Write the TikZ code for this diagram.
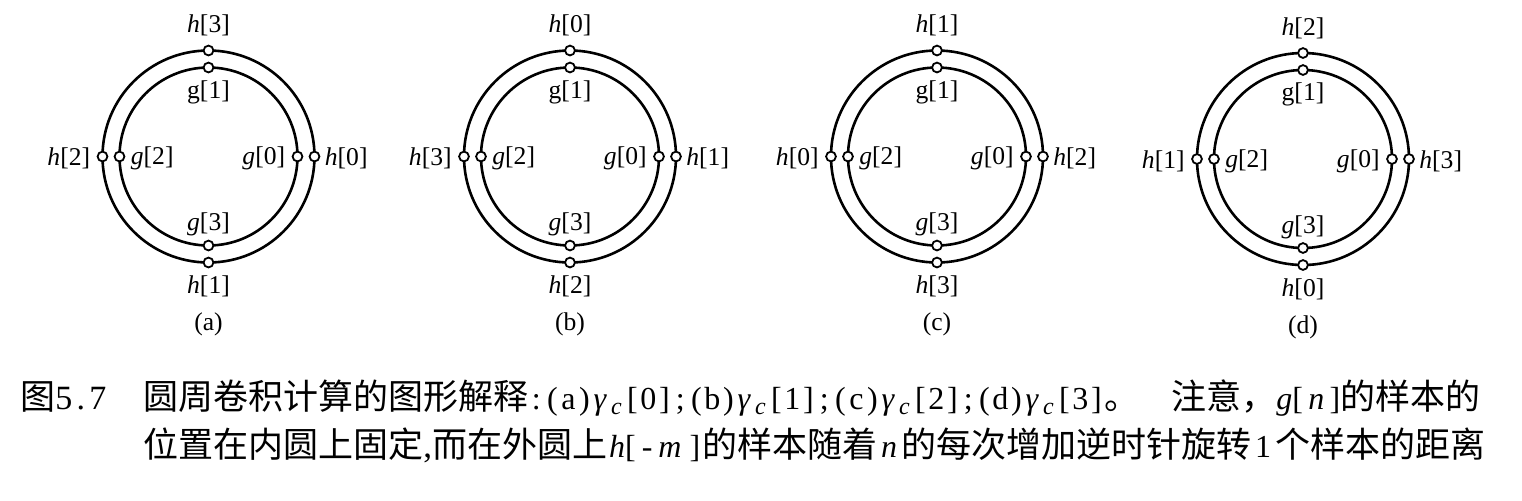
\documentclass[tikz,border=0pt]{standalone}
\usepackage{fontspec}
\setmainfont{Liberation Serif}
\newfontfamily\cjk{Noto Sans CJK SC}
\newcommand\hc[1]{\makebox[8pt]{#1}}
\newcommand\gc{\hc{\textit{γ}}\hc{\raisebox{-2.8pt}{\fontsize{12}{13}\selectfont\textit{c}}}}
\newcommand\latfont{\fontsize{16}{18}\selectfont}
\begin{document}
\begin{tikzpicture}[x=0.5pt,y=0.5pt,
  ring/.style={circle,draw,line width=1.3pt,inner sep=0pt,outer sep=0pt},
  outerring/.style={ring,minimum size=106pt},
  innerring/.style={ring,minimum size=89pt},
  dot/.style={circle,draw,fill=white,line width=0.9pt,inner sep=0pt,minimum size=4.9pt},
  lab/.style={font=\fontsize{12.8}{14}\selectfont,inner sep=0pt},
  captext/.style={font=\fontsize{17.5}{20}\selectfont,anchor=base west,inner sep=0pt}]
\useasboundingbox (0,0) rectangle (1522,-500);
\foreach \k/\cx/\cy/\tag in {0/208.5/156.5/a,1/570/156.5/b,2/937/156.5/c,3/1303/159/d}{
  \pgfmathtruncatemacro\idxR{\k}
  \pgfmathtruncatemacro\idxT{mod(\k+3,4)}
  \pgfmathtruncatemacro\idxL{mod(\k+2,4)}
  \pgfmathtruncatemacro\idxB{mod(\k+1,4)}
  \node[outerring] (O\tag) at (\cx,-\cy) {};
  \node[innerring] (I\tag) at (\cx,-\cy) {};
  \foreach \a in {east,north,west,south}{
    \node[dot] (O\tag-\a) at (O\tag.\a) {};
    \node[dot] (I\tag-\a) at (I\tag.\a) {};
  }
  \node[lab] (HT\tag) at (\cx,-\cy+131) {\textit{h}[\idxT]};
  \node[lab] (HB\tag) at (\cx,-\cy-130) {\textit{h}[\idxB]};
  \node[lab,anchor=east] (HL\tag) at (\cx-118,-\cy-2) {\textit{h}[\idxL]};
  \node[lab,anchor=west] (HR\tag) at (\cx+116,-\cy-2) {\textit{h}[\idxR]};
  \node[lab] (GT\tag) at (\cx,-\cy+64.5) {g[1]};
  \node[lab] (GB\tag) at (\cx,-\cy-68) {\textit{g}[3]};
  \node[lab,anchor=west] (GL\tag) at (\cx-78,-\cy-2) {\textit{g}[2]};
  \node[lab,anchor=east] (GR\tag) at (\cx+77,-\cy-2) {\textit{g}[0]};
  \node[lab] (P\tag) at (\cx,-\cy-168) {(\tag)};
}
\node[captext] (fig) at (20,-409) {{\cjk 图}{\fontsize{17}{19}\selectfont\makebox[8.5pt]{5}\makebox[8.5pt]{.}\makebox[8.5pt]{7}}};
\node[captext] (c1) at (143,-409) {{\cjk 圆周卷积计算的图形解释}{\latfont\hc{:}%
\hc{(}\hc{a}\hc{)}\gc\hc{[}\hc{0}\hc{]}\hc{;}%
\hc{(}\hc{b}\hc{)}\gc\hc{[}\hc{1}\hc{]}\hc{;}%
\hc{(}\hc{c}\hc{)}\gc\hc{[}\hc{2}\hc{]}\hc{;}%
\hc{(}\hc{d}\hc{)}\gc\hc{[}\hc{3}\hc{]}}{\cjk 。}\hspace{16pt}{\cjk 注意，}{\latfont\textit{g}[\,\textit{n}\,]}{\cjk 的样本的}};
\node[captext] (c2) at (143,-457) {{\cjk 位置在内圆上固定},{\cjk 而在外圆上}{\latfont\hspace{1pt}\textit{h}[\hspace{3pt}-\hspace{3pt}\textit{m}\hspace{4pt}]\hspace{1pt}}{\cjk 的样本随着}{\latfont\hspace{2pt}\textit{n}\hspace{2pt}}{\cjk 的每次增加逆时针旋转}{\latfont\hspace{2pt}1\hspace{2pt}}{\cjk 个样本的距离}};
\end{tikzpicture}
\end{document}
